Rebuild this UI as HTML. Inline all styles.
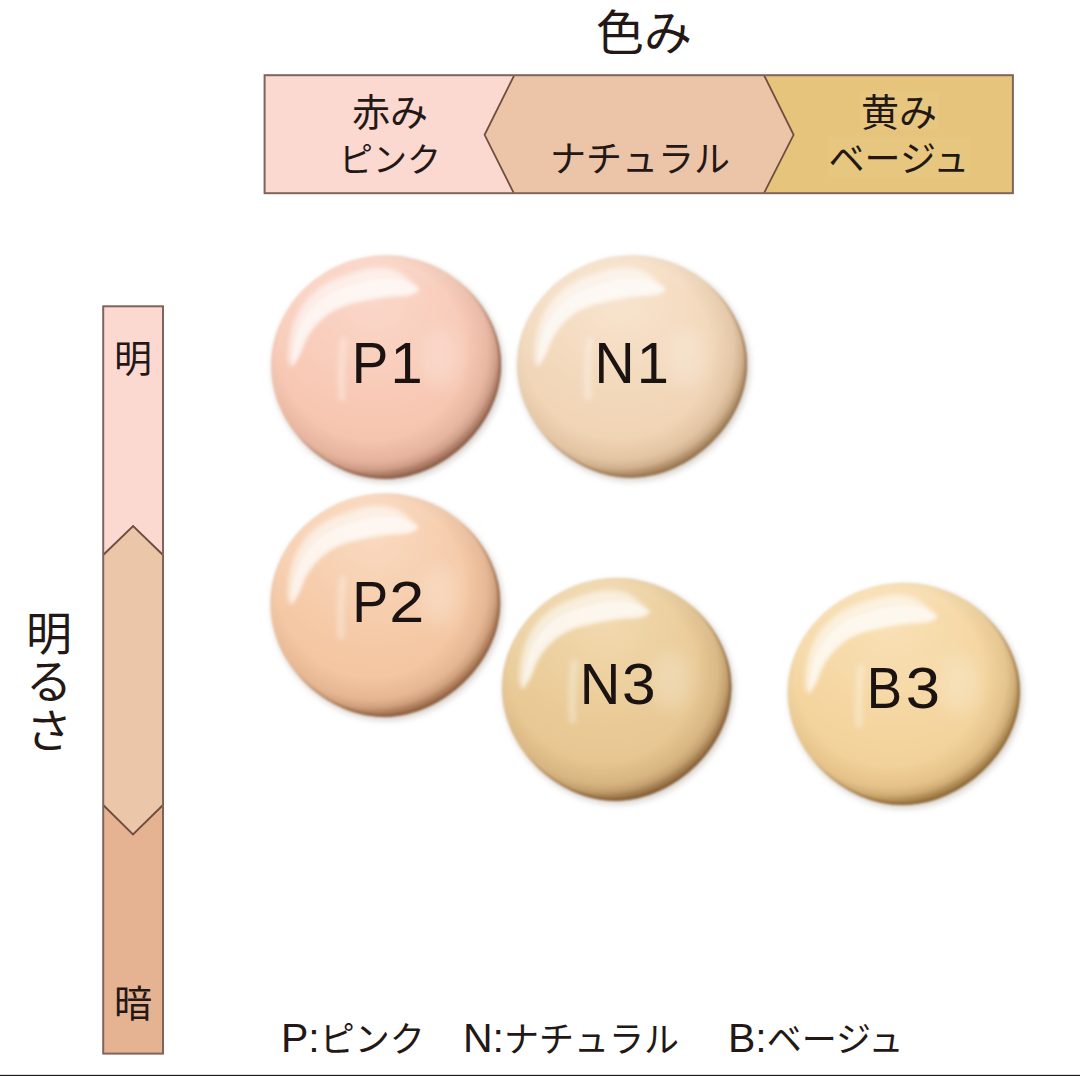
<!DOCTYPE html>
<html lang="ja"><head><meta charset="utf-8"><title>Foundation shade chart</title>
<style>
html,body{margin:0;padding:0;background:#fff;}
body{width:1080px;height:1076px;overflow:hidden;font-family:"Liberation Sans","Noto Sans CJK JP",sans-serif;}
svg{display:block}
.vh{position:absolute;left:0;top:0;width:1px;height:1px;overflow:hidden;clip:rect(0 0 0 0);clip-path:inset(50%);white-space:nowrap;opacity:0;font-size:1px}
svg text{font-family:"Liberation Sans","Noto Sans CJK JP",sans-serif;}
</style></head><body>
<svg width="1080" height="1076" viewBox="0 0 1080 1076">
<defs>
<linearGradient id="mg" x1="0.18" y1="0.15" x2="0.85" y2="0.88"><stop offset="0.42" stop-color="#000"/><stop offset="0.72" stop-color="#999"/><stop offset="1" stop-color="#eee"/></linearGradient>
<filter id="sh" x="-20%" y="-20%" width="140%" height="140%"><feGaussianBlur stdDeviation="3.5"/></filter>
<filter id="hl" x="-30%" y="-30%" width="160%" height="160%"><feGaussianBlur stdDeviation="2.4"/></filter>
<filter id="hl3" x="-60%" y="-60%" width="220%" height="220%"><feGaussianBlur stdDeviation="9"/></filter>
<filter id="hls" filterUnits="userSpaceOnUse" x="0" y="0" width="1080" height="1076"><feGaussianBlur stdDeviation="2.6"/></filter>
<filter id="hl2" x="-30%" y="-30%" width="160%" height="160%"><feGaussianBlur stdDeviation="1.2"/></filter>
<filter id="soft" x="-5%" y="-5%" width="110%" height="110%"><feGaussianBlur stdDeviation="0.8"/></filter>
</defs><g stroke="#80645b" stroke-linejoin="miter">
<rect x="264.6" y="75.2" width="748.3" height="118" fill="#fbd9d0" stroke="none"/>
<path d="M764 75.2 H1012.9 V193.2 H764Z" fill="#e6c47c" stroke="none"/>
<path d="M514.3 75.2 L764 75.2 L793.6 134.8 L764 193.2 L513.8 193.2 L484.6 134.8Z" fill="#ecc5a8" stroke="none"/>
<rect x="860.5" y="91.5" width="78" height="38.5" fill="#ecce8c" stroke="none" opacity="0.3"/>
<rect x="828" y="137" width="141" height="40" fill="#ecce8c" stroke="none" opacity="0.3"/>
<path d="M514.3 75.2 L484.6 134.8 L513.8 193.2 M764 75.2 L793.6 134.8 L764 193.2" fill="none" stroke="#6e4e40" stroke-width="1.8"/>
<rect x="264.6" y="75.2" width="748.3" height="118" fill="none" stroke-width="2"/>
</g><g stroke="#80645b">
<rect x="103.2" y="306.3" width="59.8" height="747.3" fill="#ebc6a8" stroke="none"/>
<path d="M103.2 306.3 H163 V555 L133.1 526 L103.2 555Z" fill="#fbd9d0" stroke="none"/>
<path d="M103.2 805 L133 834.4 L163 805 V1053.6 H103.2Z" fill="#e5b391" stroke="none"/>
<path d="M103.2 555 L133.1 526 L163 555 M103.2 805 L133 834.4 L163 805" fill="none" stroke="#6e4e40" stroke-width="1.9"/>
<rect x="103.2" y="306.3" width="59.8" height="747.3" fill="none" stroke-width="2"/>
</g>
<g>
<defs>
<radialGradient id="gp1" cx="0.45" cy="0.2" r="0.9"><stop offset="0" stop-color="#fad7c9"/><stop offset="0.53" stop-color="#f8c9b5"/><stop offset="0.85" stop-color="#f4c1aa"/><stop offset="1" stop-color="#f4c1aa"/></radialGradient>
<radialGradient id="rp1" cx="0.44" cy="0.42" r="0.62"><stop offset="0.65" stop-color="#8a5a44" stop-opacity="0"/><stop offset="0.81" stop-color="#8a5a44" stop-opacity="0.14"/><stop offset="0.868" stop-color="#8a5a44" stop-opacity="0.34"/><stop offset="0.897" stop-color="#8a5a44" stop-opacity="0.59"/><stop offset="0.918" stop-color="#8a5a44" stop-opacity="0.74"/><stop offset="0.94" stop-color="#8a5a44" stop-opacity="0.92"/><stop offset="1" stop-color="#8a5a44" stop-opacity="1"/></radialGradient>
<radialGradient id="wp1" cx="0.55" cy="0.62" r="0.62"><stop offset="0.80" stop-color="#fff" stop-opacity="0"/><stop offset="1" stop-color="#fff" stop-opacity="0.14"/></radialGradient>
<mask id="mp1" maskUnits="userSpaceOnUse" x="266.9" y="251.5" width="238.8" height="232.2"><rect x="266.9" y="251.5" width="238.8" height="232.2" fill="url(#mg)"/></mask>
<path id="sp1" d="M501 367.6C500.8 374.8 499.6 382.2 497.8 389.2C496 396.1 493.4 403 490.3 409.4C487.1 415.9 483.3 422.1 479.1 427.8C474.9 433.6 470.1 439 465 444C459.8 449 454.2 453.6 448.3 457.7C442.4 461.8 436 465.6 429.4 468.6C422.7 471.6 415.7 474.2 408.5 475.9C401.3 477.6 393.7 478.7 386.3 478.8C378.9 478.9 371.2 478.1 364 476.6C356.7 475.1 349.5 472.7 342.7 469.7C336 466.8 329.4 463.2 323.4 459.1C317.3 455 311.5 450.3 306.3 445.3C301.1 440.2 296.3 434.6 292.1 428.7C287.9 422.8 284.2 416.5 281.2 409.9C278.1 403.3 275.7 396.3 274 389.3C272.4 382.2 271.4 374.9 271.2 367.6C271.1 360.3 271.7 352.9 273.1 345.7C274.5 338.6 276.8 331.4 279.7 324.7C282.6 318 286.2 311.4 290.3 305.3C294.5 299.3 299.4 293.5 304.7 288.3C310 283.2 315.9 278.4 322.2 274.4C328.4 270.3 335.2 266.8 342.1 264C349.1 261.2 356.4 259.1 363.8 257.7C371.1 256.3 378.8 255.6 386.3 255.6C393.8 255.6 401.4 256.4 408.8 257.9C416.1 259.4 423.4 261.6 430.3 264.5C437.2 267.3 443.9 270.8 450.1 274.9C456.2 279 462.1 283.7 467.4 288.8C472.7 293.9 477.5 299.7 481.7 305.7C485.9 311.7 489.6 318.2 492.5 324.9C495.4 331.6 497.8 338.7 499.2 345.8C500.6 352.9 501.2 360.4 501 367.6Z"/>
<clipPath id="cp1"><use href="#sp1"/></clipPath>
</defs>
<use href="#sp1" x="2" y="3" fill="#7a6a5a" opacity="0.34" filter="url(#sh)"/>
<g filter="url(#soft)">
<use href="#sp1" fill="url(#gp1)"/>
<use href="#sp1" fill="url(#wp1)"/>
<use href="#sp1" fill="url(#rp1)"/>
<g><path d="M500 367.6C499.8 374.8 498.6 382 496.9 389C495.1 395.9 492.5 402.7 489.4 409.1C486.3 415.4 482.5 421.6 478.3 427.3C474.1 433 469.4 438.4 464.3 443.3C459.2 448.3 453.6 452.9 447.8 456.9C441.9 461 435.6 464.7 429 467.7C422.4 470.7 415.4 473.3 408.3 475C401.2 476.6 393.7 477.7 386.3 477.8C378.9 477.9 371.4 477.1 364.2 475.7C357 474.2 349.8 471.7 343.1 468.8C336.4 465.9 329.9 462.3 323.9 458.3C317.9 454.2 312.2 449.6 307 444.6C301.9 439.6 297.1 434 292.9 428.2C288.8 422.4 285.1 416 282.1 409.5C279.1 403 276.6 396.1 275 389.1C273.4 382.1 272.4 374.8 272.2 367.6C272.1 360.4 272.7 353 274.1 345.9C275.5 338.8 277.8 331.8 280.6 325.1C283.5 318.4 287 311.9 291.2 305.9C295.3 299.9 300.1 294.1 305.4 289C310.7 283.9 316.6 279.2 322.7 275.2C328.9 271.2 335.6 267.7 342.5 265C349.4 262.2 356.7 260 364 258.6C371.3 257.2 378.9 256.6 386.3 256.6C393.7 256.6 401.3 257.4 408.6 258.9C415.8 260.4 423.1 262.6 429.9 265.4C436.7 268.2 443.4 271.7 449.5 275.7C455.6 279.8 461.5 284.4 466.7 289.5C471.9 294.6 476.8 300.3 480.9 306.2C485 312.2 488.7 318.6 491.6 325.3C494.4 331.9 496.8 338.9 498.2 346C499.6 353 500.2 360.4 500 367.6Z" fill="none" stroke="#8a5a44" stroke-width="2.2" mask="url(#mp1)"/></g>
<g clip-path="url(#cp1)"><path d="M291.7 367.6C293 365.5 297.1 359.6 299.5 354.8C301.9 350.1 303.5 344 306.1 339.1C308.7 334.3 311.3 330.1 315.1 325.8C318.8 321.5 323.8 316.8 328.6 313.5C333.4 310.1 337.8 307.9 344.1 305.7C350.4 303.5 359.4 301.6 366.5 300.1C373.5 298.6 379 297.6 386.3 296.8C393.6 295.9 405 296 410.5 294.7C416.1 293.5 418.2 290.1 419.8 289.1C416.1 286.1 405.3 274.7 397.8 271.2C390.3 267.6 382.6 267.5 374.8 267.8C366.9 268.2 358.5 271 350.8 273.4C343.1 275.8 335.3 278.6 328.6 282.3C321.9 286 315.8 290.3 310.6 295.6C305.4 301 300.6 307.7 297.2 314.6C293.8 321.5 291.5 329.4 290.1 336.9C288.6 344.3 288.1 354.1 288.3 359.2C288.6 364.3 291.1 366.2 291.7 367.6Z" fill="#fff" opacity="0.6" filter="url(#hl)"/>
<path d="M291.7 367.6C293 365.5 297.1 359.6 299.5 354.8C301.9 350.1 303.5 344 306.1 339.1C308.7 334.3 311.3 330.1 315.1 325.8C318.8 321.5 323.8 316.8 328.6 313.5C333.4 310.1 337.8 307.9 344.1 305.7C350.4 303.5 359.4 301.6 366.5 300.1C373.5 298.6 379 297.6 386.3 296.8C393.6 295.9 405 296 410.5 294.7C416.1 293.5 418.2 290.1 419.8 289.1C416.9 287.6 409.4 281.9 402.7 280.1C395.9 278.4 386.8 278.2 379.1 278.8C371.5 279.4 364.2 281.5 356.7 283.6C349.3 285.6 341 288.1 334.5 291.2C327.9 294.3 322.5 297.8 317.4 302.4C312.4 307 307.6 312.9 304 318.8C300.5 324.7 298.1 331.3 296.2 337.7C294.2 344.2 293.3 352.6 292.6 357.5C291.8 362.5 291.8 365.9 291.7 367.6Z" fill="#fff" opacity="0.45" filter="url(#hl2)"/>
<ellipse cx="440.5" cy="358.6" rx="19.6" ry="30.3" fill="#fff" opacity="0.22" filter="url(#hl3)"/>
<path d="M343.6 340.7 Q340.1 369.8 341.9 397.9" fill="none" stroke="#fff" stroke-width="7" stroke-linecap="round" opacity="0.34" filter="url(#hls)"/></g>
</g>
<text transform="matrix(0.5486 0 0 0.5785 351.70 382.80)" font-size="100" fill="#1a1311">P</text><text transform="matrix(0.5785 0 0 0.5785 390.50 382.80)" font-size="100" fill="#1a1311">1</text>
</g>
<g>
<defs>
<radialGradient id="gn1" cx="0.45" cy="0.2" r="0.9"><stop offset="0" stop-color="#f8e4ce"/><stop offset="0.53" stop-color="#f2d7b9"/><stop offset="0.85" stop-color="#efd1b0"/><stop offset="1" stop-color="#efd1b0"/></radialGradient>
<radialGradient id="rn1" cx="0.44" cy="0.42" r="0.62"><stop offset="0.65" stop-color="#94704a" stop-opacity="0"/><stop offset="0.81" stop-color="#94704a" stop-opacity="0.14"/><stop offset="0.868" stop-color="#94704a" stop-opacity="0.34"/><stop offset="0.897" stop-color="#94704a" stop-opacity="0.59"/><stop offset="0.918" stop-color="#94704a" stop-opacity="0.74"/><stop offset="0.94" stop-color="#94704a" stop-opacity="0.92"/><stop offset="1" stop-color="#94704a" stop-opacity="1"/></radialGradient>
<radialGradient id="wn1" cx="0.55" cy="0.62" r="0.62"><stop offset="0.80" stop-color="#fff" stop-opacity="0"/><stop offset="1" stop-color="#fff" stop-opacity="0.14"/></radialGradient>
<mask id="mn1" maskUnits="userSpaceOnUse" x="512.9" y="251.5" width="238.8" height="231"><rect x="512.9" y="251.5" width="238.8" height="231" fill="url(#mg)"/></mask>
<path id="sn1" d="M747 367C746.8 374.2 745.6 381.5 743.8 388.4C742 395.4 739.4 402.2 736.3 408.6C733.1 415 729.3 421.2 725.1 426.9C720.9 432.6 716.1 438 711 443C705.8 448 700.2 452.6 694.3 456.7C688.4 460.7 682 464.4 675.4 467.4C668.7 470.5 661.7 473.1 654.5 474.8C647.3 476.4 639.7 477.5 632.3 477.6C624.9 477.7 617.2 476.9 610 475.4C602.7 473.9 595.5 471.5 588.7 468.6C582 465.7 575.4 462.1 569.4 458C563.3 454 557.5 449.3 552.3 444.3C547.1 439.2 542.3 433.7 538.1 427.8C533.9 421.9 530.2 415.6 527.2 409.1C524.1 402.5 521.7 395.6 520 388.6C518.4 381.6 517.4 374.2 517.2 367C517.1 359.8 517.7 352.4 519.1 345.3C520.5 338.1 522.8 331 525.7 324.3C528.6 317.6 532.2 311.1 536.3 305.1C540.5 299 545.4 293.3 550.7 288.2C556 283 561.9 278.3 568.2 274.3C574.4 270.3 581.2 266.8 588.1 264C595.1 261.2 602.4 259 609.8 257.6C617.1 256.3 624.8 255.6 632.3 255.6C639.8 255.6 647.4 256.4 654.8 257.9C662.1 259.4 669.4 261.6 676.3 264.4C683.2 267.2 689.9 270.8 696.1 274.8C702.2 278.8 708.1 283.5 713.4 288.6C718.7 293.7 723.5 299.4 727.7 305.4C731.9 311.4 735.6 317.9 738.5 324.5C741.4 331.2 743.8 338.2 745.2 345.3C746.6 352.4 747.2 359.8 747 367Z"/>
<clipPath id="cn1"><use href="#sn1"/></clipPath>
</defs>
<use href="#sn1" x="2" y="3" fill="#7a6a5a" opacity="0.34" filter="url(#sh)"/>
<g filter="url(#soft)">
<use href="#sn1" fill="url(#gn1)"/>
<use href="#sn1" fill="url(#wn1)"/>
<use href="#sn1" fill="url(#rn1)"/>
<g><path d="M746 367C745.8 374.1 744.6 381.4 742.9 388.2C741.1 395.1 738.5 401.9 735.4 408.2C732.3 414.6 728.5 420.7 724.3 426.4C720.1 432 715.4 437.4 710.3 442.3C705.2 447.2 699.6 451.8 693.8 455.8C687.9 459.9 681.6 463.6 675 466.5C668.4 469.5 661.4 472.1 654.3 473.8C647.2 475.5 639.7 476.5 632.3 476.6C624.9 476.7 617.4 476 610.2 474.5C603 473 595.8 470.6 589.1 467.7C582.4 464.8 575.9 461.2 569.9 457.2C563.9 453.2 558.2 448.6 553 443.6C547.9 438.6 543.1 433.1 538.9 427.3C534.8 421.5 531.1 415.2 528.1 408.7C525.1 402.2 522.6 395.3 521 388.4C519.4 381.4 518.4 374.2 518.2 367C518.1 359.8 518.7 352.5 520.1 345.4C521.5 338.4 523.8 331.4 526.6 324.7C529.5 318.1 533 311.6 537.2 305.6C541.3 299.6 546.1 293.9 551.4 288.9C556.7 283.8 562.6 279.1 568.7 275.1C574.9 271.1 581.6 267.7 588.5 264.9C595.4 262.2 602.7 260 610 258.6C617.3 257.2 624.9 256.6 632.3 256.6C639.7 256.6 647.3 257.4 654.6 258.9C661.8 260.3 669.1 262.5 675.9 265.3C682.7 268.1 689.4 271.6 695.5 275.6C701.6 279.6 707.5 284.3 712.7 289.3C717.9 294.4 722.8 300 726.9 305.9C731 311.9 734.7 318.3 737.6 324.9C740.4 331.5 742.8 338.5 744.2 345.5C745.6 352.5 746.2 359.9 746 367Z" fill="none" stroke="#94704a" stroke-width="2.2" mask="url(#mn1)"/></g>
<g clip-path="url(#cn1)"><path d="M537.7 367C539 364.9 543.1 359 545.5 354.3C547.9 349.6 549.5 343.5 552.1 338.7C554.7 333.9 557.3 329.7 561.1 325.4C564.8 321.2 569.8 316.5 574.6 313.1C579.4 309.8 583.8 307.7 590.1 305.5C596.4 303.2 605.4 301.4 612.5 299.9C619.5 298.4 625 297.4 632.3 296.5C639.6 295.6 651 295.8 656.5 294.5C662.1 293.3 664.2 289.9 665.8 288.9C662.1 286 651.3 274.6 643.8 271.1C636.3 267.6 628.6 267.4 620.8 267.8C612.9 268.1 604.5 270.9 596.8 273.3C589.1 275.7 581.3 278.5 574.6 282.1C567.9 285.8 561.8 290.1 556.6 295.4C551.4 300.8 546.6 307.4 543.2 314.3C539.8 321.1 537.5 329.1 536.1 336.4C534.6 343.8 534.1 353.5 534.3 358.6C534.6 363.7 537.1 365.6 537.7 367Z" fill="#fff" opacity="0.6" filter="url(#hl)"/>
<path d="M537.7 367C539 364.9 543.1 359 545.5 354.3C547.9 349.6 549.5 343.5 552.1 338.7C554.7 333.9 557.3 329.7 561.1 325.4C564.8 321.2 569.8 316.5 574.6 313.1C579.4 309.8 583.8 307.7 590.1 305.5C596.4 303.2 605.4 301.4 612.5 299.9C619.5 298.4 625 297.4 632.3 296.5C639.6 295.6 651 295.8 656.5 294.5C662.1 293.3 664.2 289.9 665.8 288.9C662.9 287.5 655.4 281.7 648.7 280C641.9 278.3 632.8 278.1 625.1 278.7C617.5 279.3 610.2 281.4 602.7 283.4C595.3 285.5 587 287.9 580.5 291C573.9 294.1 568.5 297.6 563.4 302.2C558.4 306.7 553.6 312.6 550 318.5C546.5 324.4 544.1 330.9 542.2 337.3C540.2 343.7 539.3 352 538.6 357C537.8 361.9 537.8 365.3 537.7 367Z" fill="#fff" opacity="0.45" filter="url(#hl2)"/>
<ellipse cx="686.5" cy="358.1" rx="19.6" ry="30.1" fill="#fff" opacity="0.22" filter="url(#hl3)"/>
<path d="M589.6 340.2 Q586.1 369.2 587.9 397.1" fill="none" stroke="#fff" stroke-width="7" stroke-linecap="round" opacity="0.34" filter="url(#hls)"/></g>
</g>
<text transform="matrix(0.5550 0 0 0.5785 594.45 382.80)" font-size="100" fill="#1a1311">N</text><text transform="matrix(0.5785 0 0 0.5785 636.70 382.80)" font-size="100" fill="#1a1311">1</text>
</g>
<g>
<defs>
<radialGradient id="gp2" cx="0.45" cy="0.2" r="0.9"><stop offset="0" stop-color="#fad9bf"/><stop offset="0.53" stop-color="#f5c9a6"/><stop offset="0.85" stop-color="#f3c49e"/><stop offset="1" stop-color="#f3c49e"/></radialGradient>
<radialGradient id="rp2" cx="0.44" cy="0.42" r="0.62"><stop offset="0.65" stop-color="#8c5a3a" stop-opacity="0"/><stop offset="0.81" stop-color="#8c5a3a" stop-opacity="0.14"/><stop offset="0.868" stop-color="#8c5a3a" stop-opacity="0.34"/><stop offset="0.897" stop-color="#8c5a3a" stop-opacity="0.59"/><stop offset="0.918" stop-color="#8c5a3a" stop-opacity="0.74"/><stop offset="0.94" stop-color="#8c5a3a" stop-opacity="0.92"/><stop offset="1" stop-color="#8c5a3a" stop-opacity="1"/></radialGradient>
<radialGradient id="wp2" cx="0.55" cy="0.62" r="0.62"><stop offset="0.80" stop-color="#fff" stop-opacity="0"/><stop offset="1" stop-color="#fff" stop-opacity="0.14"/></radialGradient>
<mask id="mp2" maskUnits="userSpaceOnUse" x="266.2" y="489.5" width="238.6" height="232.2"><rect x="266.2" y="489.5" width="238.6" height="232.2" fill="url(#mg)"/></mask>
<path id="sp2" d="M500.1 605.6C499.9 612.8 498.7 620.2 496.9 627.2C495.2 634.1 492.5 641 489.4 647.4C486.3 653.9 482.4 660.1 478.2 665.8C474 671.6 469.2 677 464.1 682C459 687 453.4 691.6 447.4 695.7C441.5 699.8 435.2 703.6 428.5 706.6C421.9 709.6 414.8 712.2 407.7 713.9C400.5 715.6 392.9 716.7 385.5 716.8C378.1 716.9 370.4 716.1 363.2 714.6C355.9 713.1 348.7 710.7 342 707.7C335.2 704.8 328.7 701.2 322.6 697.1C316.6 693 310.8 688.3 305.6 683.3C300.4 678.2 295.6 672.6 291.4 666.7C287.2 660.8 283.5 654.5 280.4 647.9C277.4 641.3 275 634.3 273.3 627.3C271.7 620.2 270.7 612.9 270.5 605.6C270.4 598.3 271 590.9 272.4 583.7C273.8 576.6 276.1 569.4 279 562.7C281.8 556 285.5 549.4 289.6 543.3C293.8 537.3 298.7 531.5 304 526.3C309.3 521.2 315.2 516.4 321.4 512.4C327.7 508.3 334.4 504.8 341.4 502C348.3 499.2 355.7 497.1 363 495.7C370.4 494.3 378 493.6 385.5 493.6C393 493.6 400.6 494.4 407.9 495.9C415.3 497.4 422.6 499.6 429.4 502.5C436.3 505.3 443 508.8 449.2 512.9C455.4 517 461.3 521.7 466.5 526.8C471.8 531.9 476.7 537.7 480.8 543.7C485 549.7 488.7 556.2 491.6 562.9C494.5 569.6 496.9 576.7 498.3 583.8C499.7 590.9 500.3 598.4 500.1 605.6Z"/>
<clipPath id="cp2"><use href="#sp2"/></clipPath>
</defs>
<use href="#sp2" x="2" y="3" fill="#7a6a5a" opacity="0.34" filter="url(#sh)"/>
<g filter="url(#soft)">
<use href="#sp2" fill="url(#gp2)"/>
<use href="#sp2" fill="url(#wp2)"/>
<use href="#sp2" fill="url(#rp2)"/>
<g><path d="M499.1 605.6C498.9 612.8 497.7 620 496 627C494.2 633.9 491.6 640.7 488.5 647.1C485.4 653.4 481.6 659.6 477.4 665.3C473.2 671 468.5 676.4 463.4 681.3C458.3 686.3 452.8 690.9 446.9 694.9C441 699 434.7 702.7 428.2 705.7C421.6 708.7 414.6 711.3 407.5 713C400.4 714.6 392.8 715.7 385.5 715.8C378.2 715.9 370.6 715.1 363.4 713.7C356.2 712.2 349.1 709.7 342.4 706.8C335.7 703.9 329.2 700.3 323.2 696.3C317.1 692.2 311.5 687.6 306.3 682.6C301.1 677.6 296.4 672 292.2 666.2C288 660.4 284.3 654 281.4 647.5C278.4 641 275.9 634.1 274.3 627.1C272.7 620.1 271.7 612.8 271.5 605.6C271.4 598.4 272 591 273.4 583.9C274.8 576.8 277.1 569.8 279.9 563.1C282.7 556.4 286.3 549.9 290.5 543.9C294.6 537.9 299.4 532.1 304.7 527C309.9 521.9 315.8 517.2 322 513.2C328.2 509.2 334.9 505.7 341.8 503C348.6 500.2 355.9 498 363.2 496.6C370.5 495.2 378.1 494.6 385.5 494.6C392.9 494.6 400.5 495.4 407.7 496.9C415 498.4 422.2 500.6 429.1 503.4C435.9 506.2 442.5 509.7 448.7 513.7C454.8 517.8 460.6 522.4 465.8 527.5C471.1 532.6 475.9 538.3 480 544.2C484.2 550.2 487.8 556.6 490.7 563.3C493.5 569.9 495.9 576.9 497.3 584C498.7 591 499.3 598.4 499.1 605.6Z" fill="none" stroke="#8c5a3a" stroke-width="2.2" mask="url(#mp2)"/></g>
<g clip-path="url(#cp2)"><path d="M291 605.6C292.3 603.5 296.4 597.6 298.8 592.8C301.2 588.1 302.8 582 305.4 577.1C308 572.3 310.6 568.1 314.4 563.8C318.1 559.5 323 554.8 327.9 551.5C332.7 548.1 337 545.9 343.3 543.7C349.6 541.5 358.6 539.6 365.7 538.1C372.7 536.6 378.2 535.6 385.5 534.8C392.8 533.9 404.1 534 409.7 532.7C415.3 531.5 417.4 528.1 418.9 527.1C415.3 524.1 404.5 512.7 397 509.2C389.5 505.6 381.8 505.5 374 505.8C366.1 506.2 357.7 509 350 511.4C342.3 513.8 334.5 516.6 327.9 520.3C321.2 524 315.1 528.3 309.9 533.6C304.6 539 299.9 545.7 296.5 552.6C293.1 559.5 290.8 567.4 289.3 574.9C287.9 582.3 287.3 592.1 287.6 597.2C287.9 602.3 290.4 604.2 291 605.6Z" fill="#fff" opacity="0.6" filter="url(#hl)"/>
<path d="M291 605.6C292.3 603.5 296.4 597.6 298.8 592.8C301.2 588.1 302.8 582 305.4 577.1C308 572.3 310.6 568.1 314.4 563.8C318.1 559.5 323 554.8 327.9 551.5C332.7 548.1 337 545.9 343.3 543.7C349.6 541.5 358.6 539.6 365.7 538.1C372.7 536.6 378.2 535.6 385.5 534.8C392.8 533.9 404.1 534 409.7 532.7C415.3 531.5 417.4 528.1 418.9 527.1C416.1 525.6 408.6 519.9 401.8 518.1C395.1 516.4 386 516.2 378.4 516.8C370.7 517.4 363.4 519.5 355.9 521.6C348.5 523.6 340.3 526.1 333.7 529.2C327.2 532.3 321.8 535.8 316.7 540.4C311.6 545 306.8 550.9 303.3 556.8C299.7 562.7 297.3 569.3 295.4 575.7C293.5 582.2 292.6 590.6 291.9 595.5C291.1 600.5 291.1 603.9 291 605.6Z" fill="#fff" opacity="0.45" filter="url(#hl2)"/>
<ellipse cx="439.7" cy="596.6" rx="19.6" ry="30.3" fill="#fff" opacity="0.22" filter="url(#hl3)"/>
<path d="M342.8 578.7 Q339.4 607.8 341.1 635.9" fill="none" stroke="#fff" stroke-width="7" stroke-linecap="round" opacity="0.34" filter="url(#hls)"/></g>
</g>
<text transform="matrix(0.5392 0 0 0.5785 352.28 621.50)" font-size="100" fill="#1a1311">P</text><text transform="matrix(0.6300 0 0 0.5757 389.13 621.50)" font-size="100" fill="#1a1311">2</text>
</g>
<g>
<defs>
<radialGradient id="gn3" cx="0.45" cy="0.2" r="0.9"><stop offset="0" stop-color="#f2d9ae"/><stop offset="0.53" stop-color="#e9ca96"/><stop offset="0.85" stop-color="#e5c38c"/><stop offset="1" stop-color="#e5c38c"/></radialGradient>
<radialGradient id="rn3" cx="0.44" cy="0.42" r="0.62"><stop offset="0.65" stop-color="#825a32" stop-opacity="0"/><stop offset="0.81" stop-color="#825a32" stop-opacity="0.14"/><stop offset="0.868" stop-color="#825a32" stop-opacity="0.34"/><stop offset="0.897" stop-color="#825a32" stop-opacity="0.59"/><stop offset="0.918" stop-color="#825a32" stop-opacity="0.74"/><stop offset="0.94" stop-color="#825a32" stop-opacity="0.92"/><stop offset="1" stop-color="#825a32" stop-opacity="1"/></radialGradient>
<radialGradient id="wn3" cx="0.55" cy="0.62" r="0.62"><stop offset="0.80" stop-color="#fff" stop-opacity="0"/><stop offset="1" stop-color="#fff" stop-opacity="0.14"/></radialGradient>
<mask id="mn3" maskUnits="userSpaceOnUse" x="497.8" y="574" width="238.2" height="231.6"><rect x="497.8" y="574" width="238.2" height="231.6" fill="url(#mg)"/></mask>
<path id="sn3" d="M731.3 689.8C731.1 697 729.9 704.3 728.1 711.3C726.4 718.2 723.7 725.1 720.6 731.5C717.5 737.9 713.7 744.1 709.4 749.9C705.2 755.6 700.5 761 695.4 766C690.2 771 684.7 775.6 678.7 779.7C672.8 783.8 666.5 787.5 659.9 790.5C653.2 793.5 646.2 796.1 639 797.8C631.9 799.5 624.3 800.6 616.9 800.7C609.5 800.8 601.9 800 594.6 798.5C587.4 797 580.2 794.6 573.5 791.7C566.7 788.7 560.2 785.1 554.1 781.1C548.1 777 542.3 772.3 537.1 767.3C531.9 762.2 527.1 756.7 523 750.8C518.8 744.9 515 738.5 512 732C509 725.4 506.6 718.5 504.9 711.4C503.3 704.4 502.3 697 502.1 689.8C502 682.6 502.6 675.1 504 668C505.4 660.9 507.7 653.7 510.6 647C513.4 640.3 517 633.7 521.2 627.7C525.4 621.6 530.2 615.9 535.5 610.7C540.8 605.6 546.7 600.9 553 596.8C559.2 592.8 565.9 589.3 572.9 586.5C579.8 583.7 587.1 581.6 594.4 580.2C601.8 578.8 609.4 578.1 616.9 578.1C624.4 578.1 632 578.9 639.3 580.4C646.6 581.9 653.9 584.1 660.8 586.9C667.6 589.8 674.3 593.3 680.5 597.4C686.7 601.4 692.5 606.1 697.8 611.2C703.1 616.3 707.9 622 712.1 628C716.2 634 719.9 640.5 722.8 647.2C725.7 653.9 728.1 660.9 729.5 668C730.9 675.2 731.5 682.6 731.3 689.8Z"/>
<clipPath id="cn3"><use href="#sn3"/></clipPath>
</defs>
<use href="#sn3" x="2" y="3" fill="#7a6a5a" opacity="0.34" filter="url(#sh)"/>
<g filter="url(#soft)">
<use href="#sn3" fill="url(#gn3)"/>
<use href="#sn3" fill="url(#wn3)"/>
<use href="#sn3" fill="url(#rn3)"/>
<g><path d="M730.3 689.8C730.1 696.9 728.9 704.2 727.2 711.1C725.4 718 722.8 724.8 719.7 731.1C716.6 737.5 712.8 743.6 708.6 749.3C704.5 755 699.8 760.4 694.7 765.3C689.6 770.3 684.1 774.8 678.2 778.9C672.3 782.9 666 786.6 659.5 789.6C652.9 792.6 645.9 795.2 638.8 796.9C631.7 798.6 624.2 799.6 616.9 799.7C609.6 799.8 602 799 594.8 797.6C587.7 796.1 580.5 793.6 573.8 790.8C567.1 787.9 560.7 784.3 554.7 780.2C548.7 776.2 543 771.6 537.8 766.6C532.7 761.6 527.9 756.1 523.8 750.2C519.6 744.4 515.9 738.1 512.9 731.6C510 725.1 507.5 718.2 505.9 711.2C504.3 704.3 503.3 697 503.1 689.8C503 682.6 503.6 675.3 505 668.2C506.4 661.1 508.6 654.1 511.5 647.4C514.3 640.7 517.9 634.2 522 628.2C526.2 622.3 531 616.5 536.2 611.5C541.5 606.4 547.3 601.7 553.5 597.7C559.7 593.7 566.4 590.2 573.2 587.4C580.1 584.7 587.4 582.5 594.6 581.1C601.9 579.7 609.5 579.1 616.9 579.1C624.3 579.1 631.9 579.9 639.1 581.4C646.4 582.9 653.6 585.1 660.4 587.9C667.2 590.7 673.8 594.2 679.9 598.2C686.1 602.2 691.9 606.9 697.1 611.9C702.3 617 707.1 622.6 711.2 628.6C715.4 634.5 719 641 721.9 647.6C724.8 654.2 727.1 661.2 728.5 668.2C729.9 675.3 730.5 682.7 730.3 689.8Z" fill="none" stroke="#825a32" stroke-width="2.2" mask="url(#mn3)"/></g>
<g clip-path="url(#cn3)"><path d="M522.5 689.8C523.8 687.7 527.9 681.8 530.3 677.1C532.7 672.3 534.3 666.2 536.9 661.4C539.5 656.6 542.1 652.4 545.9 648.1C549.6 643.8 554.5 639.1 559.4 635.8C564.2 632.5 568.5 630.3 574.8 628.1C581.1 625.9 590.1 624 597.1 622.5C604.1 621 609.6 620 616.9 619.1C624.2 618.2 635.5 618.4 641.1 617.1C646.6 615.9 648.7 612.5 650.3 611.5C646.6 608.6 635.9 597.2 628.4 593.7C620.9 590.1 613.2 589.9 605.4 590.3C597.6 590.7 589.1 593.5 581.4 595.9C573.8 598.3 566 601 559.4 604.7C552.7 608.4 546.6 612.7 541.4 618C536.2 623.4 531.5 630.1 528 636.9C524.6 643.8 522.4 651.8 520.9 659.2C519.4 666.6 518.9 676.3 519.2 681.4C519.4 686.5 522 688.4 522.5 689.8Z" fill="#fff" opacity="0.6" filter="url(#hl)"/>
<path d="M522.5 689.8C523.8 687.7 527.9 681.8 530.3 677.1C532.7 672.3 534.3 666.2 536.9 661.4C539.5 656.6 542.1 652.4 545.9 648.1C549.6 643.8 554.5 639.1 559.4 635.8C564.2 632.5 568.5 630.3 574.8 628.1C581.1 625.9 590.1 624 597.1 622.5C604.1 621 609.6 620 616.9 619.1C624.2 618.2 635.5 618.4 641.1 617.1C646.6 615.9 648.7 612.5 650.3 611.5C647.4 610 640 604.3 633.2 602.6C626.5 600.9 617.4 600.7 609.8 601.3C602.1 601.8 594.8 603.9 587.4 606C580 608.1 571.7 610.5 565.2 613.6C558.7 616.7 553.3 620.2 548.2 624.8C543.2 629.4 538.4 635.3 534.8 641.2C531.3 647 528.9 653.6 527 660C525.1 666.4 524.2 674.8 523.4 679.8C522.7 684.7 522.7 688.1 522.5 689.8Z" fill="#fff" opacity="0.45" filter="url(#hl2)"/>
<ellipse cx="671" cy="680.9" rx="19.6" ry="30.2" fill="#fff" opacity="0.22" filter="url(#hl3)"/>
<path d="M574.3 663 Q570.9 692 572.6 720" fill="none" stroke="#fff" stroke-width="7" stroke-linecap="round" opacity="0.34" filter="url(#hls)"/></g>
</g>
<text transform="matrix(0.5621 0 0 0.5727 579.79 704.00)" font-size="100" fill="#1a1311">N</text><text transform="matrix(0.6053 0 0 0.5734 621.89 704.04)" font-size="100" fill="#1a1311">3</text>
</g>
<g>
<defs>
<radialGradient id="gb3" cx="0.45" cy="0.2" r="0.9"><stop offset="0" stop-color="#f9e0b5"/><stop offset="0.53" stop-color="#f4d59f"/><stop offset="0.85" stop-color="#f1cf95"/><stop offset="1" stop-color="#f1cf95"/></radialGradient>
<radialGradient id="rb3" cx="0.44" cy="0.42" r="0.62"><stop offset="0.65" stop-color="#8c6632" stop-opacity="0"/><stop offset="0.81" stop-color="#8c6632" stop-opacity="0.14"/><stop offset="0.868" stop-color="#8c6632" stop-opacity="0.34"/><stop offset="0.897" stop-color="#8c6632" stop-opacity="0.59"/><stop offset="0.918" stop-color="#8c6632" stop-opacity="0.74"/><stop offset="0.94" stop-color="#8c6632" stop-opacity="0.92"/><stop offset="1" stop-color="#8c6632" stop-opacity="1"/></radialGradient>
<radialGradient id="wb3" cx="0.55" cy="0.62" r="0.62"><stop offset="0.80" stop-color="#fff" stop-opacity="0"/><stop offset="1" stop-color="#fff" stop-opacity="0.14"/></radialGradient>
<mask id="mb3" maskUnits="userSpaceOnUse" x="783.5" y="578.8" width="241" height="231"><rect x="783.5" y="578.8" width="241" height="231" fill="url(#mg)"/></mask>
<path id="sb3" d="M1019.8 694.3C1019.6 701.5 1018.4 708.8 1016.6 715.7C1014.8 722.7 1012.1 729.5 1009 735.9C1005.8 742.3 1001.9 748.5 997.7 754.2C993.4 759.9 988.6 765.3 983.4 770.3C978.2 775.3 972.6 779.9 966.6 784C960.6 788 954.2 791.7 947.5 794.7C940.8 797.8 933.6 800.4 926.4 802.1C919.1 803.7 911.5 804.8 904 804.9C896.5 805 888.8 804.2 881.5 802.7C874.1 801.2 866.9 798.8 860 795.9C853.2 793 846.6 789.4 840.5 785.3C834.3 781.3 828.5 776.6 823.3 771.6C818 766.5 813.1 761 808.9 755.1C804.7 749.2 800.9 742.9 797.9 736.4C794.8 729.8 792.3 722.9 790.7 715.9C789 708.9 788 701.5 787.8 694.3C787.7 687.1 788.3 679.7 789.8 672.6C791.2 665.4 793.5 658.3 796.4 651.6C799.3 644.9 802.9 638.4 807.1 632.4C811.3 626.3 816.3 620.6 821.6 615.5C827 610.3 833 605.6 839.3 601.6C845.6 597.6 852.4 594.1 859.4 591.3C866.4 588.5 873.8 586.3 881.3 584.9C888.7 583.6 896.4 582.9 904 582.9C911.6 582.9 919.3 583.7 926.7 585.2C934.1 586.7 941.4 588.9 948.4 591.7C955.3 594.5 962.1 598.1 968.4 602.1C974.6 606.1 980.6 610.8 985.9 615.9C991.2 621 996.1 626.7 1000.3 632.7C1004.6 638.7 1008.3 645.2 1011.2 651.8C1014.1 658.5 1016.5 665.5 1017.9 672.6C1019.4 679.7 1020 687.1 1019.8 694.3Z"/>
<clipPath id="cb3"><use href="#sb3"/></clipPath>
</defs>
<use href="#sb3" x="2" y="3" fill="#7a6a5a" opacity="0.34" filter="url(#sh)"/>
<g filter="url(#soft)">
<use href="#sb3" fill="url(#gb3)"/>
<use href="#sb3" fill="url(#wb3)"/>
<use href="#sb3" fill="url(#rb3)"/>
<g><path d="M1018.8 694.3C1018.6 701.4 1017.4 708.7 1015.6 715.5C1013.8 722.4 1011.2 729.2 1008.1 735.5C1004.9 741.9 1001.1 748 996.9 753.7C992.6 759.3 987.9 764.7 982.7 769.6C977.6 774.5 972 779.1 966.1 783.1C960.1 787.2 953.7 790.9 947.1 793.8C940.5 796.8 933.4 799.4 926.2 801.1C919 802.8 911.4 803.8 904 803.9C896.6 804 888.9 803.3 881.7 801.8C874.4 800.3 867.2 797.9 860.4 795C853.6 792.1 847.1 788.5 841 784.5C834.9 780.5 829.2 775.9 824 770.9C818.7 765.9 813.9 760.4 809.7 754.6C805.5 748.8 801.8 742.5 798.8 736C795.8 729.5 793.3 722.6 791.6 715.7C790 708.7 789 701.5 788.8 694.3C788.7 687.1 789.3 679.8 790.7 672.7C792.2 665.7 794.4 658.7 797.3 652C800.2 645.4 803.8 638.9 808 632.9C812.1 626.9 817 621.2 822.3 616.2C827.6 611.1 833.6 606.4 839.8 602.4C846.1 598.4 852.9 595 859.8 592.2C866.7 589.5 874.1 587.3 881.5 585.9C888.8 584.5 896.5 583.9 904 583.9C911.5 583.9 919.1 584.7 926.5 586.2C933.8 587.6 941.1 589.8 948 592.6C954.9 595.4 961.6 598.9 967.8 602.9C974 606.9 979.9 611.6 985.2 616.6C990.5 621.7 995.3 627.3 999.5 633.2C1003.7 639.2 1007.4 645.6 1010.3 652.2C1013.2 658.8 1015.5 665.8 1017 672.8C1018.4 679.8 1019 687.2 1018.8 694.3Z" fill="none" stroke="#8c6632" stroke-width="2.2" mask="url(#mb3)"/></g>
<g clip-path="url(#cb3)"><path d="M808.5 694.3C809.8 692.2 814 686.3 816.4 681.6C818.8 676.9 820.4 670.8 823 666C825.7 661.2 828.3 657 832.1 652.7C835.9 648.5 840.9 643.8 845.8 640.4C850.6 637.1 855 635 861.4 632.8C867.7 630.5 876.9 628.7 884 627.2C891.1 625.7 896.6 624.7 904 623.8C911.4 622.9 922.8 623.1 928.5 621.8C934.1 620.6 936.2 617.2 937.8 616.2C934.1 613.3 923.2 601.9 915.6 598.4C908.1 594.9 900.3 594.7 892.4 595.1C884.4 595.4 875.9 598.2 868.1 600.6C860.4 603 852.5 605.8 845.8 609.4C839 613.1 832.9 617.4 827.6 622.7C822.3 628.1 817.5 634.7 814.1 641.6C810.6 648.4 808.3 656.4 806.8 663.7C805.3 671.1 804.8 680.8 805.1 685.9C805.4 691 807.9 692.9 808.5 694.3Z" fill="#fff" opacity="0.6" filter="url(#hl)"/>
<path d="M808.5 694.3C809.8 692.2 814 686.3 816.4 681.6C818.8 676.9 820.4 670.8 823 666C825.7 661.2 828.3 657 832.1 652.7C835.9 648.5 840.9 643.8 845.8 640.4C850.6 637.1 855 635 861.4 632.8C867.7 630.5 876.9 628.7 884 627.2C891.1 625.7 896.6 624.7 904 623.8C911.4 622.9 922.8 623.1 928.5 621.8C934.1 620.6 936.2 617.2 937.8 616.2C934.9 614.8 927.4 609 920.5 607.3C913.7 605.6 904.5 605.4 896.8 606C889 606.6 881.7 608.7 874.1 610.7C866.6 612.8 858.3 615.2 851.7 618.3C845.1 621.4 839.6 624.9 834.5 629.5C829.4 634 824.5 639.9 820.9 645.8C817.3 651.7 814.9 658.2 813 664.6C811.1 671 810.1 679.3 809.4 684.3C808.6 689.2 808.6 692.6 808.5 694.3Z" fill="#fff" opacity="0.45" filter="url(#hl2)"/>
<ellipse cx="958.8" cy="685.4" rx="19.8" ry="30.1" fill="#fff" opacity="0.22" filter="url(#hl3)"/>
<path d="M860.9 667.5 Q857.4 696.5 859.1 724.4" fill="none" stroke="#fff" stroke-width="7" stroke-linecap="round" opacity="0.34" filter="url(#hls)"/></g>
</g>
<text transform="matrix(0.5298 0 0 0.5698 866.85 708.40)" font-size="100" fill="#1a1311">B</text><text transform="matrix(0.6159 0 0 0.5678 905.85 708.45)" font-size="100" fill="#1a1311">3</text>
</g>
<g fill="#231815" font-family="&quot;Liberation Sans&quot;,&quot;Noto Sans CJK JP&quot;,sans-serif">
<text x="644" y="50" font-size="48" text-anchor="middle">色み</text>
<text x="390" y="126" font-size="38" text-anchor="middle">赤み</text>
<text x="390" y="172" font-size="34" text-anchor="middle">ピンク</text>
<text x="640" y="172" font-size="36" text-anchor="middle">ナチュラル</text>
<text x="899" y="126" font-size="38" text-anchor="middle">黄み</text>
<text x="899" y="172" font-size="36" text-anchor="middle">ベージュ</text>
<text x="133" y="372" font-size="38" text-anchor="middle">明</text>
<text x="133" y="1017" font-size="38" text-anchor="middle">暗</text>
<text font-size="46" text-anchor="middle"><tspan x="49" y="650">明</tspan><tspan x="49" y="698">る</tspan><tspan x="49" y="747">さ</tspan></text>
<text x="281" y="1051.5" font-size="41">P:<tspan font-size="35">ピンク</tspan></text>
<text x="463" y="1051.5" font-size="41">N:<tspan font-size="35">ナチュラル</tspan></text>
<text x="728" y="1051.5" font-size="41">B:<tspan font-size="35">ベージュ</tspan></text>
</g>
<rect x="0" y="1074" width="1080" height="1" fill="#dcdcdc"/><rect x="0" y="1075" width="1080" height="1" fill="#1c1c1c"/>
</svg>
<div class="vh">色み　赤みピンク　ナチュラル　黄みベージュ　明るさ　明　暗　P1 N1 P2 N3 B3　P:ピンク　N:ナチュラル　B:ベージュ</div>
</body></html>
